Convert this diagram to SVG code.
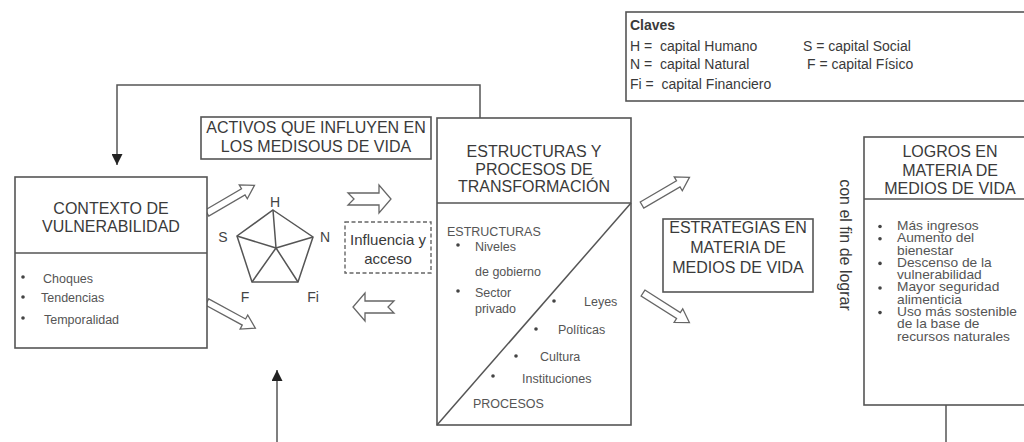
<svg xmlns="http://www.w3.org/2000/svg" width="1024" height="442" viewBox="0 0 1024 442">
<defs>
<style>
.box{fill:#fff;stroke:#555;stroke-width:1.6}
.ln{fill:none;stroke:#555;stroke-width:1.5}
.t{font-family:"Liberation Sans",Arial,sans-serif;fill:#3a3a3a}
.ttl{font-size:16px;text-anchor:middle}
.sm{font-size:12.5px;fill:#555}
.lbl{font-size:14px;fill:#444}
.dot{fill:#444}
.ha{fill:#fff;stroke:#666;stroke-width:1.3;stroke-linejoin:miter}
</style>
<marker id="ah" viewBox="0 0 10 10" refX="10" refY="5" markerWidth="11" markerHeight="11" markerUnits="userSpaceOnUse" orient="auto">
<path d="M0,0 L10,5 L0,10 Z" fill="#222"/>
</marker>
<polygon id="blk" points="0,-3.5 42,-3.5 42,-8 55,0 42,8 42,3.5 0,3.5"/>
</defs>

<rect width="1024" height="442" fill="#fff"/>

<g id="connectors">
<path class="ln" d="M480,119 V85 H117 V165" marker-end="url(#ah)"/>
<path class="ln" d="M277,442 V370" marker-end="url(#ah)"/>
<path class="ln" d="M946,405 V442"/>
<use href="#blk" class="ha" transform="translate(207,213) rotate(-30.3)"/>
<use href="#blk" class="ha" transform="translate(207,302) rotate(28.5)"/>
<use href="#blk" class="ha" transform="translate(642,205) rotate(-30.3)"/>
<use href="#blk" class="ha" transform="translate(643,293) rotate(32.5)"/>
<polygon class="ha" points="348,193 379,193 379,185 391,199 379,213 379,205 348,205 354,199"/>
<polygon class="ha" points="394,301 365,301 365,293 353,307 365,321 365,313 394,313 388,307"/>
</g>

<g id="claves">
<rect class="box" x="626" y="12" width="410" height="89"/>
<text class="t" x="630" y="30" font-size="14" font-weight="bold">Claves</text>
<text class="t" x="630" y="51" font-size="14" xml:space="preserve">H =  capital Humano</text>
<text class="t" x="803" y="51" font-size="14">S = capital Social</text>
<text class="t" x="630" y="69" font-size="14" xml:space="preserve">N =  capital Natural</text>
<text class="t" x="807" y="69" font-size="14">F = capital Físico</text>
<text class="t" x="630" y="89" font-size="14" xml:space="preserve">Fi =  capital Financiero</text>
</g>

<g id="contexto">
<rect class="box" x="15" y="177" width="192" height="171"/>
<line class="ln" x1="15" y1="253" x2="207" y2="253"/>
<text class="t ttl" x="111" y="214">CONTEXTO DE</text>
<text class="t ttl" x="111" y="232">VULNERABILIDAD</text>
<circle class="dot" cx="23" cy="277" r="1.8"/>
<circle class="dot" cx="23" cy="297" r="1.8"/>
<circle class="dot" cx="23" cy="318" r="1.8"/>
<text class="t sm" x="43" y="283">Choques</text>
<text class="t sm" x="41" y="302">Tendencias</text>
<text class="t sm" x="44" y="324">Temporalidad</text>
</g>

<g id="activos">
<rect class="box" x="201" y="117" width="230" height="42"/>
<text class="t ttl" x="316" y="133">ACTIVOS QUE INFLUYEN EN</text>
<text class="t ttl" x="316" y="152">LOS MEDISOUS DE VIDA</text>
</g>

<g id="pentagono">
<polygon class="ln" points="273,210 313,237 298,282 252,282 237,236"/>
<path class="ln" d="M276,248 L273,210 M276,248 L313,237 M276,248 L298,282 M276,248 L252,282 M276,248 L237,236"/>
<text class="t lbl" x="275" y="207" text-anchor="middle">H</text>
<text class="t lbl" x="223" y="242" text-anchor="middle">S</text>
<text class="t lbl" x="325" y="242" text-anchor="middle">N</text>
<text class="t lbl" x="245" y="302" text-anchor="middle">F</text>
<text class="t lbl" x="313" y="302" text-anchor="middle">Fi</text>
</g>

<g id="influencia">
<rect x="345" y="222" width="86" height="51" fill="#fff" stroke="#666" stroke-width="1.4" stroke-dasharray="4,2.5"/>
<text class="t" x="388" y="245" font-size="15" text-anchor="middle" fill="#555">Influencia y</text>
<text class="t" x="388" y="264" font-size="15" text-anchor="middle" fill="#555">acceso</text>
</g>

<g id="estructuras">
<rect class="box" x="437" y="118" width="194" height="307"/>
<line class="ln" x1="437" y1="203" x2="631" y2="203"/>
<line class="ln" x1="437" y1="425" x2="631" y2="203"/>
<text class="t ttl" x="534" y="157">ESTRUCTURAS Y</text>
<text class="t ttl" x="534" y="175">PROCESOS DE</text>
<text class="t ttl" x="534" y="192">TRANSFORMACIÓN</text>
<text class="t sm" x="447" y="236">ESTRUCTURAS</text>
<circle class="dot" cx="458" cy="245" r="1.8"/>
<text class="t sm" x="475" y="251">Niveles</text>
<text class="t sm" x="475" y="276">de gobierno</text>
<circle class="dot" cx="458" cy="291" r="1.8"/>
<text class="t sm" x="475" y="297">Sector</text>
<text class="t sm" x="475" y="313">privado</text>
<circle class="dot" cx="554" cy="301" r="1.8"/>
<text class="t sm" x="584" y="306">Leyes</text>
<circle class="dot" cx="536" cy="329" r="1.8"/>
<text class="t sm" x="558" y="334">Políticas</text>
<circle class="dot" cx="516" cy="356" r="1.8"/>
<text class="t sm" x="540" y="361">Cultura</text>
<circle class="dot" cx="493" cy="376" r="1.8"/>
<text class="t sm" x="522" y="383">Instituciones</text>
<text class="t sm" x="473" y="408">PROCESOS</text>
</g>

<g id="estrategias">
<rect class="box" x="663" y="219" width="150" height="73"/>
<text class="t ttl" x="738" y="233" font-size="15.5">ESTRATEGIAS EN</text>
<text class="t ttl" x="738" y="253" font-size="15.5">MATERIA DE</text>
<text class="t ttl" x="738" y="273" font-size="15.5">MEDIOS DE VIDA</text>
</g>

<text class="t" x="840" y="245" font-size="16" text-anchor="middle" fill="#444" transform="rotate(90 840 245)">con el fin de lograr</text>

<g id="logros">
<rect class="box" x="864" y="137" width="170" height="268"/>
<line class="ln" x1="864" y1="199" x2="1024" y2="199"/>
<text class="t ttl" x="950" y="157">LOGROS EN</text>
<text class="t ttl" x="950" y="176">MATERIA DE</text>
<text class="t ttl" x="950" y="194">MEDIOS DE VIDA</text>
<g class="t sm" font-size="10.5" transform="matrix(1.1,0,0,1,-89.7,0)">
<text x="897" y="230">Más ingresos</text>
<text x="897" y="242.3">Aumento del</text>
<text x="897" y="254.6">bienestar</text>
<text x="897" y="266.9">Descenso de la</text>
<text x="897" y="279.2">vulnerabilidad</text>
<text x="897" y="291.5">Mayor seguridad</text>
<text x="897" y="303.8">alimenticia</text>
<text x="897" y="316.1">Uso más sostenible</text>
<text x="897" y="328.4">de la base de</text>
<text x="897" y="340.7">recursos naturales</text>
</g>
<circle class="dot" cx="880" cy="226.5" r="1.8"/>
<circle class="dot" cx="880" cy="238.8" r="1.8"/>
<circle class="dot" cx="880" cy="263.4" r="1.8"/>
<circle class="dot" cx="880" cy="288" r="1.8"/>
<circle class="dot" cx="880" cy="312.6" r="1.8"/>
</g>
</svg>
